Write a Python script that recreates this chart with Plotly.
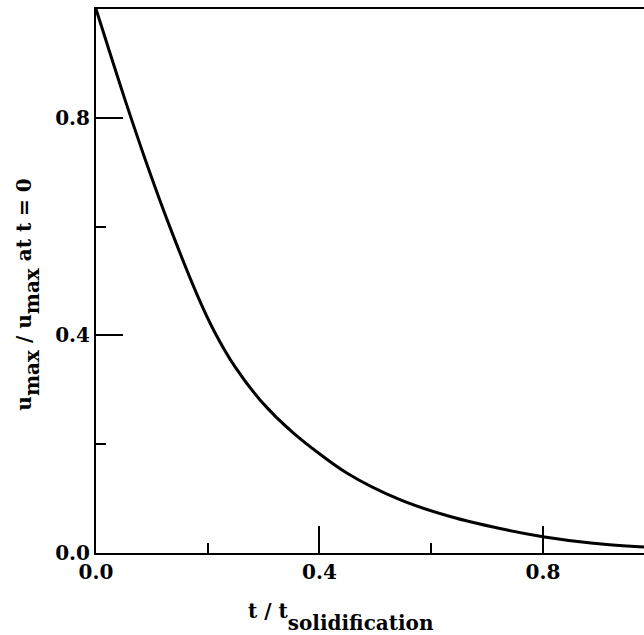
import plotly.graph_objects as go

# Data
t_norm = [0, 0.026, 0.052, 0.09, 0.132, 0.183, 0.213, 0.249, 0.294, 0.353,
          0.449, 0.544, 0.634, 0.723, 0.800, 0.89, 0.981]
u_ratio = [1.0, 0.916, 0.833, 0.718, 0.600, 0.470, 0.405, 0.342, 0.281, 0.221,
           0.147, 0.098, 0.067, 0.045, 0.030, 0.018, 0.011]

x_ticks = [0.0, 0.4, 0.8]
y_ticks = [0.0, 0.4, 0.8]

FONT = "DejaVu Serif"

fig = go.Figure()
fig.add_trace(go.Scatter(x=t_norm, y=u_ratio, mode="lines",
                         line=dict(color="black", width=3, shape="spline", smoothing=0.8),
                         showlegend=False, hoverinfo="skip"))

axis_common = dict(
    showgrid=False, zeroline=False, showline=True, linecolor="black", linewidth=2,
    ticks="inside", ticklen=27, tickwidth=2, tickcolor="black",
    tickformat=".1f",
    tickfont=dict(family=FONT, size=20, color="black", weight="bold"),
    minor=dict(ticks="inside", ticklen=10, tickwidth=1.5, tickcolor="black", dtick=0.2, tick0=0),
)

fig.update_xaxes(range=[0, 0.981], tickvals=x_ticks, mirror=True, **axis_common)
fig.update_yaxes(range=[0, 1.0], tickvals=y_ticks, mirror=False, **axis_common)

fig.update_layout(
    width=644, height=635,
    margin=dict(l=96, r=0, t=9, b=82),
    paper_bgcolor="white", plot_bgcolor="white",
    annotations=[
        dict(text="t / t<span style='baseline-shift:-12px'>solidification</span>",
             xref="paper", yref="paper", x=(341 - 96) / 548, y=-0.117,
             xanchor="center", yanchor="middle", showarrow=False,
             font=dict(family=FONT, size=20, color="black", weight="bold")),
        dict(text="u<span style='baseline-shift:-8px'>max</span> / u<span style='baseline-shift:-8px'>max</span> at t = 0",
             xref="paper", yref="paper", x=-0.124, y=0.475, textangle=-90,
             xanchor="center", yanchor="middle", showarrow=False,
             font=dict(family=FONT, size=20, color="black", weight="bold")),
    ],
)

fig.write_html(
    "out.html",
    config={"displayModeBar": False},
    post_script="document.body.style.margin='0';document.body.style.overflow='hidden';",
)
